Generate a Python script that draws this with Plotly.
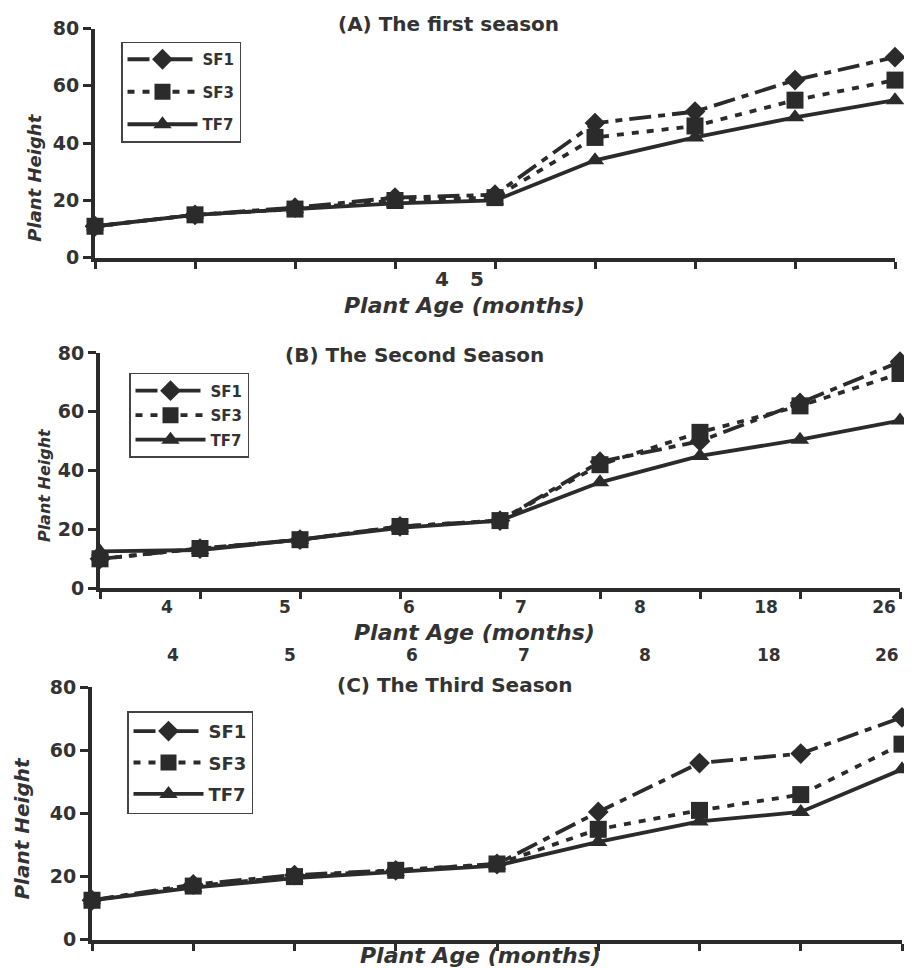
import plotly.graph_objects as go

W, H = 912, 968
OFF = 8  # page body margin

# ---- data ----
x_points = list(range(9))
series_names = ["SF1", "SF3", "TF7"]

a_sf1 = [11, 15, 17.5, 21, 22, 47, 51, 62, 70]
a_sf3 = [11, 15, 17, 20, 21, 42, 46, 55, 62]
a_tf7 = [11, 15, 17, 19, 20, 34, 42, 49, 55]

b_sf1 = [10, 13.5, 16.5, 21, 23, 43, 50, 63, 77]
b_sf3 = [10, 13.5, 16.5, 21, 23, 42, 53, 62, 73]
b_tf7 = [12.5, 13, 16.5, 20.5, 23, 36, 45, 50.5, 57]

c_sf1 = [12.5, 17.5, 20.5, 22, 24, 40.5, 56, 59, 70.5]
c_sf3 = [12.5, 17, 20, 22, 24, 35, 41, 46, 62]
c_tf7 = [12.5, 16.5, 19.5, 21.5, 23.5, 31, 37.5, 40.5, 54]

y_ticks = [0, 20, 40, 60, 80]
a_tick_pos = [3.47, 3.82]
a_tick_text = ["4", "5"]
b_tick_pos = [0.67, 1.85, 3.09, 4.21, 5.4, 6.66, 7.84]
b_tick_text = ["4", "5", "6", "7", "8", "18", "26"]
c_top_pos = [0.8, 1.96, 3.16, 4.27, 5.46, 6.69, 7.85]
c_top_text = ["4", "5", "6", "7", "8", "18", "26"]

titles = ["(A) The first season", "(B) The Second Season", "(C) The Third Season"]

# ---- style ----
INK = "#2b2b2b"
TXT = "#333333"
FONT = "DejaVu Sans"
symbols = {"SF1": "diamond", "SF3": "square", "TF7": "triangle-up"}
dashes = {"SF1": "22px,7px,7px,7px", "SF3": "7px,8px", "TF7": "solid"}
msize = {"SF1": 16, "SF3": 17, "TF7": 16}


def px_x(p):
    return (p - OFF) / W


def px_y(t):
    p = (t - 11.7) / 0.976
    return 1 - (p - OFF) / H


panels = [
    dict(data=[a_sf1, a_sf3, a_tf7], xd=(95, 895), yd=(258, 29), leg=(121, 42), gap=10, lf=15),
    dict(data=[b_sf1, b_sf3, b_tf7], xd=(100, 900), yd=(588, 353), leg=(129, 373), gap=2, lf=15),
    dict(data=[c_sf1, c_sf3, c_tf7], xd=(92, 902), yd=(939, 687), leg=(127, 711), gap=5, lf=18),
]

fig = go.Figure()
layout = dict(
    width=W, height=H, margin=dict(l=0, r=0, t=0, b=0),
    paper_bgcolor="white", plot_bgcolor="rgba(0,0,0,0)",
    font=dict(family=FONT, color=TXT),
)
annotations = []

for i, p in enumerate(panels):
    k = "" if i == 0 else str(i + 1)
    legname = "legend" if i == 0 else f"legend{i+1}"
    for name, vals in zip(series_names, p["data"]):
        fig.add_trace(go.Scatter(
            x=x_points, y=vals, name=name, mode="lines+markers",
            xaxis="x" + k, yaxis="y" + k, legend=legname,
            legendgroup=f"{name}{i}", cliponaxis=False,
            line=dict(color=INK, width=3.8, dash=dashes[name]),
            marker=dict(symbol=symbols[name], size=msize[name], color=INK),
        ))
    xa = dict(
        domain=[px_x(p["xd"][0]), px_x(p["xd"][1])], range=[0, 8],
        anchor="y" + k, showline=True, linecolor=INK, linewidth=3.8,
        showgrid=False, zeroline=False, ticks="",
        tickfont=dict(size=17, color=TXT, weight="bold"),
        minor=dict(tickmode="linear", tick0=0, dtick=1, ticks="outside",
                   ticklen=7, tickwidth=2.5, tickcolor=INK, showgrid=False),
    )
    if i == 0:
        xa.update(tickmode="array", tickvals=a_tick_pos, ticktext=a_tick_text,
                  tickfont=dict(size=20, color=TXT, weight="bold"))
    elif i == 1:
        xa.update(tickmode="array", tickvals=b_tick_pos, ticktext=b_tick_text)
    else:
        xa.update(tickmode="array", tickvals=[], showticklabels=False)
    ya = dict(
        domain=[px_y(p["yd"][0]), px_y(p["yd"][1])], range=[0, 80],
        anchor="x" + k, showline=True, linecolor=INK, linewidth=3.8,
        showgrid=False, zeroline=False, tickmode="array", tickvals=y_ticks,
        ticks="outside", ticklen=8, tickwidth=2.5, tickcolor=INK,
        tickfont=dict(size=19, color=TXT, weight="bold"),
    )
    layout["xaxis" + k] = xa
    layout["yaxis" + k] = ya
    layout[legname] = dict(
        x=px_x(p["leg"][0]), y=px_y(p["leg"][1]), xanchor="left", yanchor="top",
        bgcolor="white", bordercolor="#444", borderwidth=1.5,
        font=dict(size=p["lf"], color=TXT, weight="bold"), tracegroupgap=p["gap"],
        itemwidth=70,
    )

# stray tick-label row above panel C (placed on the x3 scale)
for pos, txt in zip(c_top_pos, c_top_text):
    annotations.append(dict(text=txt, x=pos, xref="x3", y=px_y(655), yref="paper",
                            showarrow=False, font=dict(size=17, color=TXT, weight="bold"),
                            xanchor="center", yanchor="middle"))

# titles
title_pos = [(448, 25), (414, 355), (455, 685)]
for t, (tx, ty) in zip(titles, title_pos):
    annotations.append(dict(text=t, x=px_x(tx), y=px_y(ty), xref="paper", yref="paper",
                            showarrow=False, font=dict(size=20, color=TXT, weight="bold"),
                            xanchor="center", yanchor="middle"))
xt_pos = [(464, 306), (474, 632), (480, 955)]
for tx, ty in xt_pos:
    annotations.append(dict(text="<i>Plant Age (months)</i>", x=px_x(tx), y=px_y(ty),
                            xref="paper", yref="paper", showarrow=False,
                            font=dict(size=22, color=TXT, weight="bold"),
                            xanchor="center", yanchor="middle"))
yt_pos = [(35, 178, 18), (44, 485, 16), (22, 828, 20)]
for tx, ty, fs in yt_pos:
    annotations.append(dict(text="<i>Plant Height</i>", x=px_x(tx), y=px_y(ty),
                            xref="paper", yref="paper", showarrow=False, textangle=-90,
                            font=dict(size=fs, color=TXT, weight="bold"),
                            xanchor="center", yanchor="middle"))

layout["annotations"] = annotations
layout["showlegend"] = True
fig.update_layout(**layout)
fig.write_html("out.html")
